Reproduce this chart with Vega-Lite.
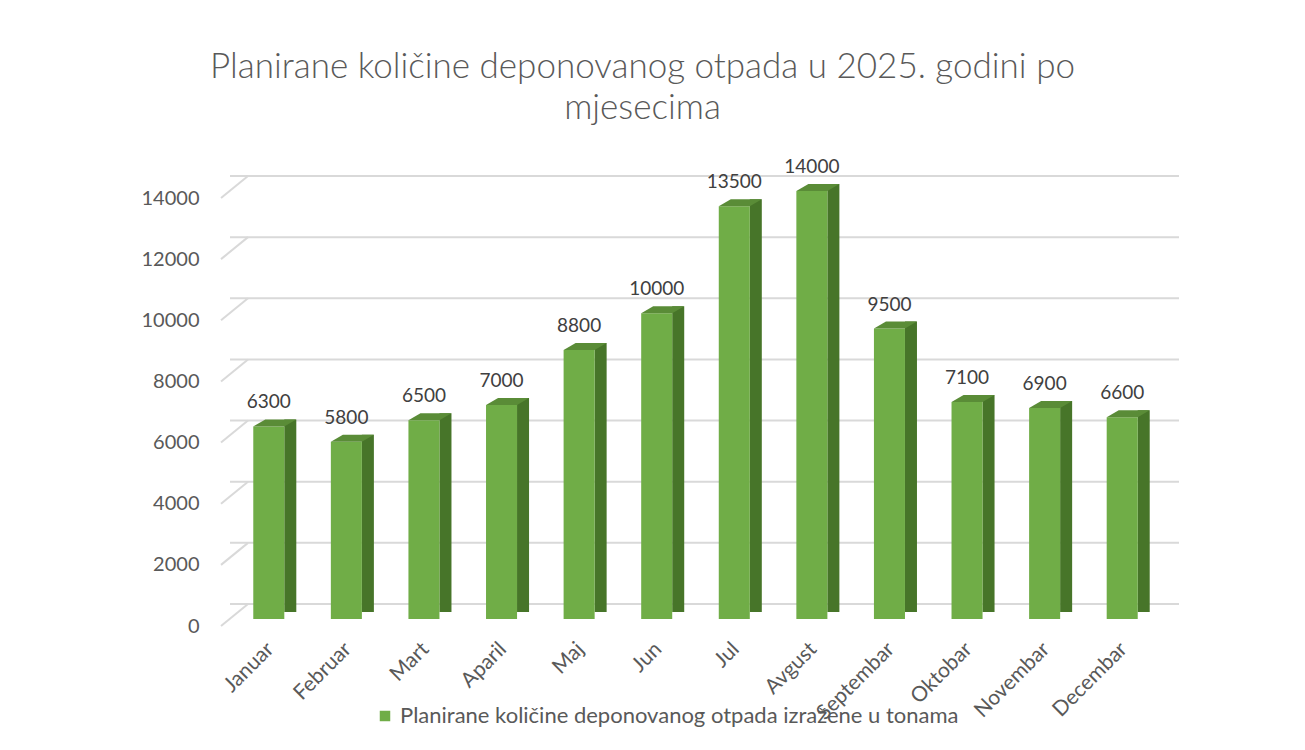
{
  "$schema": "https://vega.github.io/schema/vega-lite/v6.json",
  "autosize": {"type": "none"},
  "width": 931,
  "height": 428,
  "padding": {"left": 230, "top": 191, "right": 144, "bottom": 131},
  "background": "white",
  "config": {"view": {"stroke": null}, "font": "Lato"},
  "title": {
    "text": ["Planirane količine deponovanog otpada u 2025. godini po", "mjesecima"],
    "fontSize": 35,
    "fontWeight": 300,
    "font": "Lato",
    "color": "#595959",
    "anchor": "middle",
    "dx": -53,
    "offset": 32,
    "lineHeight": 41
  },
  "data": {
    "values": [
      {"mjesec": "Januar", "value": 6300},
      {"mjesec": "Februar", "value": 5800},
      {"mjesec": "Mart", "value": 6500},
      {"mjesec": "Aparil", "value": 7000},
      {"mjesec": "Maj", "value": 8800},
      {"mjesec": "Jun", "value": 10000},
      {"mjesec": "Jul", "value": 13500},
      {"mjesec": "Avgust", "value": 14000},
      {"mjesec": "Septembar", "value": 9500},
      {"mjesec": "Oktobar", "value": 7100},
      {"mjesec": "Novembar", "value": 6900},
      {"mjesec": "Decembar", "value": 6600}
    ]
  },
  "encoding": {
    "x": {
      "field": "mjesec",
      "type": "nominal",
      "sort": null,
      "scale": {"paddingInner": 0, "paddingOuter": 0},
      "axis": {
        "title": null,
        "domain": false,
        "ticks": false,
        "labelAngle": -45,
        "labelFontSize": 21,
        "labelColor": "#595959",
        "labelFont": "Lato",
        "labelPadding": 19,
        "labelOffset": -6
      }
    },
    "y": {
      "field": "value",
      "type": "quantitative",
      "scale": {"domain": [0, 14000], "nice": false},
      "axis": {
        "title": null,
        "domain": false,
        "ticks": false,
        "grid": false,
        "format": "d",
        "values": [0, 2000, 4000, 6000, 8000, 10000, 12000, 14000],
        "labelFontSize": 20,
        "labelColor": "#595959",
        "labelFont": "Lato",
        "labelPadding": 31,
        "labelOffset": 7
      }
    }
  },
  "layer": [
    {
      "data": {"values": [{"value": 0}, {"value": 2000}, {"value": 4000}, {"value": 6000}, {"value": 8000}, {"value": 10000}, {"value": 12000}, {"value": 14000}]},
      "mark": {"type": "rule", "color": "#d9d9d9", "strokeWidth": 2, "xOffset": 18, "x2Offset": 18, "yOffset": -15},
      "encoding": {"x": null}
    },
    {
      "data": {"values": [{"value": 0}, {"value": 2000}, {"value": 4000}, {"value": 6000}, {"value": 8000}, {"value": 10000}, {"value": 12000}, {"value": 14000}]},
      "mark": {"type": "rule", "color": "#d9d9d9", "strokeWidth": 2, "xOffset": -9, "x2Offset": 18, "yOffset": 7, "y2Offset": -15},
      "encoding": {
        "x": {"datum": "Januar", "type": "nominal", "bandPosition": 0},
        "x2": {"datum": "Januar", "bandPosition": 0},
        "y2": {"field": "value"}
      }
    },
    {
      "mark": {"type": "bar", "color": "#477529", "width": {"band": 0.155}, "xOffset": 21.5, "yOffset": -7, "y2Offset": 0}
    },
    {
      "mark": {"type": "point", "shape": "M 15.7 0.5 L 28 0.5 L 28 -7 Z", "size": 4, "filled": true, "color": "white", "opacity": 1, "strokeWidth": 0},
      "encoding": {"y": {"datum": 0}}
    },
    {
      "mark": {"type": "bar", "width": {"band": 0.4}},
      "encoding": {
        "color": {
          "datum": "Planirane količine deponovanog otpada izražene u tonama",
          "scale": {"range": ["#70ad47"]},
          "legend": {
            "title": null,
            "orient": "none",
            "legendX": 144,
            "legendY": 514,
            "padding": 0,
            "symbolType": "square",
            "symbolSize": 110,
            "symbolStrokeWidth": 0,
            "labelFontSize": 22,
            "labelColor": "#595959",
            "labelFont": "Lato",
            "labelLimit": 800,
            "labelOffset": 4
          }
        }
      }
    },
    {
      "mark": {"type": "point", "shape": "M -15.5 0 L 15.5 0 L 27.5 -7 L -3.5 -7 Z", "size": 4, "filled": true, "color": "#5a8c37", "opacity": 1, "strokeWidth": 0}
    },
    {
      "mark": {"type": "text", "fontSize": 19, "color": "#404040", "font": "Lato", "baseline": "middle", "dy": -24},
      "encoding": {"text": {"field": "value", "type": "quantitative"}}
    }
  ]
}
